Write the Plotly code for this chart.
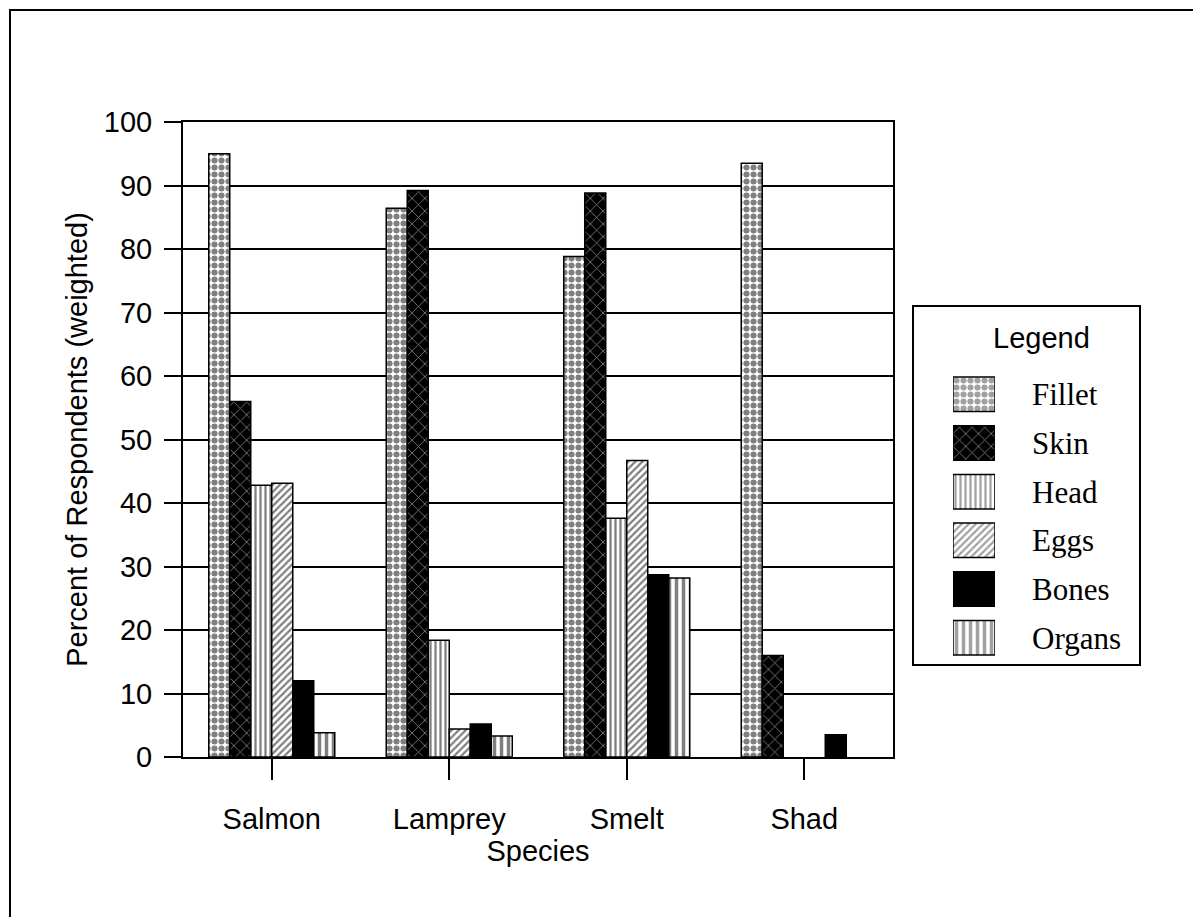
import plotly.graph_objects as go

# data
species = ["Salmon", "Lamprey", "Smelt", "Shad"]
parts = ["Fillet", "Skin", "Head", "Eggs", "Bones", "Organs"]
fillet = [95.0, 86.4, 78.8, 93.5]
skin = [56.0, 89.2, 88.8, 16.0]
head = [42.8, 18.4, 37.6, None]
eggs = [43.1, 4.4, 46.7, None]
bones = [12.0, 5.2, 28.7, 3.5]
organs = [3.8, 3.3, 28.2, None]
y_ticks = list(range(0, 101, 10))

values = {"Fillet": fillet, "Skin": skin, "Head": head,
          "Eggs": eggs, "Bones": bones, "Organs": organs}

# black & white hatch styles, one per body part
styles = {
    "Fillet": dict(bg="white", fg="black", shape=".", size=7, solidity=0.6),
    "Skin": dict(bg="black", fg="white", shape="x", size=9, solidity=0.18),
    "Head": dict(bg="white", fg="black", shape="|", size=5, solidity=0.45),
    "Eggs": dict(bg="white", fg="black", shape="/", size=5, solidity=0.45),
    "Bones": dict(bg="black", fg="black", shape="", size=8, solidity=0.3),
    "Organs": dict(bg="white", fg="black", shape="|", size=7, solidity=0.5),
}

SANS = "Liberation Sans, Arial, sans-serif"
SERIF = "Liberation Serif, Times New Roman, serif"

# the page puts the figure 8px in from the window corner
OFF = 8
W, H = 1201, 917
ML, MR, MT, MB = 183 - OFF, 40, 122 - OFF, 160 + OFF
PW, PH = W - ML - MR, H - MT - MB


def px_x(x):
    return (x - OFF - ML) / PW


def px_y(y):
    return (H - MB - (y - OFF)) / PH


fig = go.Figure()

for p in parts:
    s = styles[p]
    fig.add_trace(go.Bar(
        x=species, y=values[p], name=p,
        marker=dict(
            color=s["bg"],
            line=dict(color="black", width=1.5),
            pattern=dict(shape=s["shape"], fgcolor=s["fg"], bgcolor=s["bg"],
                         size=s["size"], solidity=s["solidity"],
                         fillmode="overlay"),
        ),
        showlegend=False,
    ))

# legend drawn as a small inset bar chart (big swatches like the original)
fig.add_trace(go.Bar(
    x=[1] * len(parts), y=parts, orientation="h",
    xaxis="x2", yaxis="y2", showlegend=False, hoverinfo="skip",
    marker=dict(
        color=[styles[p]["bg"] for p in parts],
        line=dict(color="black", width=1.5),
        pattern=dict(shape=[styles[p]["shape"] for p in parts],
                     fgcolor=[styles[p]["fg"] for p in parts],
                     bgcolor=[styles[p]["bg"] for p in parts],
                     size=[styles[p]["size"] for p in parts],
                     solidity=[styles[p]["solidity"] for p in parts],
                     fillmode="overlay"),
    ),
))

fig.update_layout(
    width=W, height=H,
    margin=dict(l=ML, r=MR, t=MT, b=MB),
    paper_bgcolor="white", plot_bgcolor="white",
    font=dict(family=SANS, size=29, color="black"),
    barmode="group", bargap=0.29, bargroupgap=0,
    xaxis=dict(
        domain=[0, px_x(893)],
        showline=True, mirror=True, linecolor="black", linewidth=2,
        ticks="outside", ticklen=21, tickwidth=2, tickcolor="black",
        ticklabelstandoff=14, showgrid=False,
        title=dict(text="Species", standoff=0, font=dict(size=29)),
    ),
    yaxis=dict(
        range=[0, 100], tickvals=y_ticks,
        showline=True, mirror=True, linecolor="black", linewidth=2,
        ticks="outside", ticklen=17, tickwidth=2, tickcolor="black",
        ticklabelstandoff=6,
        showgrid=True, gridcolor="black", gridwidth=2, zeroline=False,
        title=dict(text="Percent of Respondents (weighted)", standoff=8,
                   font=dict(size=29)),
    ),
    xaxis2=dict(domain=[px_x(953), px_x(995)], anchor="y2", range=[0, 1],
                visible=False, fixedrange=True),
    yaxis2=dict(domain=[px_y(662), px_y(370)], anchor="x2", side="right",
                autorange="reversed", showgrid=False, zeroline=False,
                showline=False, ticks="", ticklabelstandoff=36,
                tickfont=dict(family=SERIF, size=31)),
    shapes=[
        # legend frame
        dict(type="rect", xref="paper", yref="paper",
             x0=px_x(913), x1=px_x(1140), y0=px_y(665), y1=px_y(306),
             line=dict(color="black", width=2)),
        # outer page frame
        dict(type="rect", xref="paper", yref="paper",
             x0=px_x(10), x1=px_x(1230), y0=px_y(940), y1=px_y(10),
             line=dict(color="black", width=2)),
    ],
    annotations=[
        dict(text="Legend", xref="paper", yref="paper",
             x=px_x(1041), y=px_y(338), xanchor="center", yanchor="middle",
             showarrow=False, font=dict(family=SANS, size=29)),
    ],
)

fig.write_html("out.html")
